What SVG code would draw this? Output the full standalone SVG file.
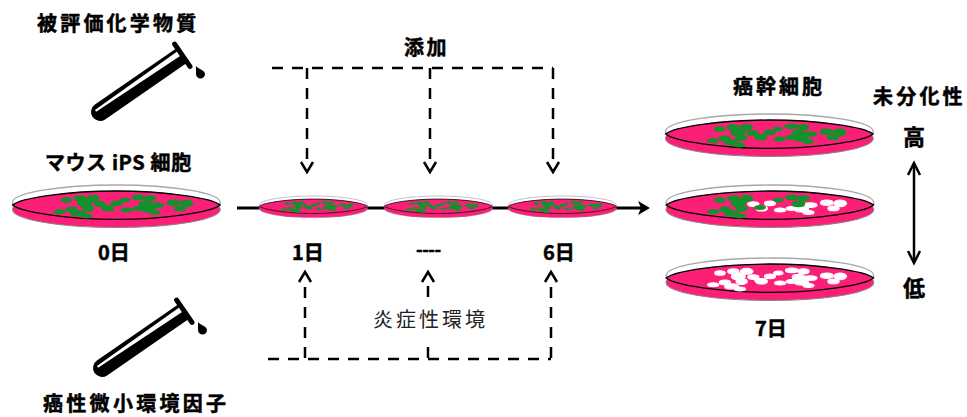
<svg xmlns="http://www.w3.org/2000/svg" width="967" height="417" viewBox="0 0 967 417">
<style>
text{font-family:"Noto Sans CJK JP","Noto Sans",sans-serif;font-weight:700;fill:#000;stroke:#000;stroke-width:.5;font-size:20px}
.m{font-size:22px}
.thin{font-weight:400;fill:#222;stroke:none}
.dash{fill:none;stroke:#000;stroke-width:2.5;stroke-dasharray:11 9}
.solid{fill:none;stroke:#000;stroke-width:3}
.head{fill:none;stroke:#000;stroke-width:2.5}
.green{fill:#12922c;stroke:#12922c;stroke-width:3}
.white{fill:#fff;stroke:#fff;stroke-width:3}
</style>
<defs>
<!-- cell colonies in dish coordinates -->
<g id="cellsA">
<ellipse cx="163" cy="48" rx="16" ry="7"/><ellipse cx="203" cy="43" rx="17" ry="8"/><ellipse cx="243" cy="43" rx="19" ry="9"/><ellipse cx="218" cy="58" rx="21" ry="11"/><ellipse cx="228" cy="73" rx="17" ry="9"/>
<ellipse cx="143" cy="83" rx="17" ry="6"/><ellipse cx="178" cy="76" rx="17" ry="7"/><ellipse cx="198" cy="88" rx="21" ry="8"/><ellipse cx="223" cy="96" rx="17" ry="6"/>
<ellipse cx="338" cy="48" rx="14" ry="6"/><ellipse cx="378" cy="40" rx="19" ry="7"/><ellipse cx="413" cy="43" rx="17" ry="8"/><ellipse cx="398" cy="60" rx="19" ry="8"/><ellipse cx="283" cy="70" rx="16" ry="6"/>
</g>
<g id="cellsB">
<ellipse cx="263" cy="60" rx="17" ry="7"/><ellipse cx="288" cy="73" rx="17" ry="8"/><ellipse cx="313" cy="58" rx="17" ry="7"/><ellipse cx="343" cy="78" rx="17" ry="6"/>
<ellipse cx="433" cy="63" rx="21" ry="7"/><ellipse cx="408" cy="76" rx="21" ry="8"/><ellipse cx="428" cy="85" rx="17" ry="6"/><ellipse cx="378" cy="73" rx="17" ry="6"/>
<ellipse cx="483" cy="56" rx="19" ry="8"/><ellipse cx="523" cy="58" rx="19" ry="10"/><ellipse cx="503" cy="73" rx="17" ry="7"/>
</g>
<!-- empty dish: lid rim, medium and inner edge -->
<g id="dish">
<ellipse cx="312.500" cy="56" rx="311" ry="53" fill="#fff" stroke="#a8a8a8" stroke-width="4"/>
<ellipse cx="312.500" cy="76" rx="311" ry="54" fill="#fb1f78" stroke="#888" stroke-width="3"/>
<path d="M2 63C25 42 170 21 312 21S600 42 623 63C600 84 454 106 312 106S25 84 2 63Z" fill="#fb1f78" stroke="#000" stroke-width="4"/>
</g>
<g id="tube">
<g transform="translate(100 112) rotate(-34.6)">
<path d="M0 -9H100V9H0A9 9 0 0 1 0 -9Z" fill="#000"/>
<path d="M-3 -4.5L100 -6V-.5L-3 -2.5Z" fill="#fff"/>
<path d="M100 -13.5L100 13.5" stroke="#000" stroke-width="5" stroke-linecap="round"/>
</g>
<path d="M196 66C198 69 205 70 205 74A4.5 4.5 0 0 1 196 74Z" fill="#000"/>
</g>
<path id="tipDown" d="M-6 -10L0 0L6 -10" class="head"/>
</defs>

<g id="connectors">
<path class="solid" d="M237 208H642"/>
<path d="M650 208L638 201L641 208L638 215Z" fill="#000"/>
<path class="dash" d="M272 68H553"/>
<path class="dash" d="M307 68V163M430 68V163M553 68V163"/>
<use href="#tipDown" x="307" y="172"/><use href="#tipDown" x="430" y="172"/><use href="#tipDown" x="553" y="172"/>
<path class="dash" d="M268 359H551"/>
<path class="dash" d="M305 358V285M551 358V285"/>
<path class="dash" d="M428 358V345M428 297V285"/>
<use href="#tipDown" transform="translate(305 272) scale(1 -1)"/><use href="#tipDown" transform="translate(428 272) scale(1 -1)"/><use href="#tipDown" transform="translate(551 272) scale(1 -1)"/>
<path d="M914 166V260" stroke="#000" stroke-width="2.5"/>
<path d="M908 175L914 163L920 175M908 251L914 263L920 251" fill="none" stroke="#000" stroke-width="2.5"/>
</g>

<g id="tube-chemical"><use href="#tube"/></g>
<g id="tube-niche"><use href="#tube" x="2" y="256"/></g>

<g id="dish-day0" transform="translate(12 184) scale(.334)">
<use href="#dish"/><use href="#cellsA" class="green"/><use href="#cellsB" class="green"/>
</g>
<g id="dish-day1" transform="translate(259 195.500) scale(.174 .17)">
<use href="#dish"/><use href="#cellsA" class="green"/><use href="#cellsB" class="green"/>
</g>
<g id="dish-mid" transform="translate(384 195.500) scale(.174 .17)">
<use href="#dish"/><use href="#cellsA" class="green"/><use href="#cellsB" class="green"/>
</g>
<g id="dish-day6" transform="translate(508 195.500) scale(.174 .17)">
<use href="#dish"/><use href="#cellsA" class="green"/><use href="#cellsB" class="green"/>
</g>
<g id="dish-high" transform="translate(665 113) scale(.334)">
<use href="#dish"/><use href="#cellsA" class="green"/><use href="#cellsB" class="green"/>
</g>
<g id="dish-mixed" transform="translate(665.500 184) scale(.334)">
<use href="#dish"/><use href="#cellsB" class="white"/><use href="#cellsA" class="green"/>
</g>
<g id="dish-low" transform="translate(665.500 257) scale(.334)">
<use href="#dish"/><use href="#cellsA" class="white"/><use href="#cellsB" class="white"/>
</g>

<g id="labels">
<text x="37" y="31" letter-spacing="3.2">被評価化学物質</text>
<text x="45" y="170" letter-spacing=".6">マウス iPS 細胞</text>
<text x="98" y="260">0日</text>
<text x="292" y="260">1日</text>
<text x="416" y="256" style="font-size:18px" letter-spacing="-.5">----</text>
<text x="543" y="260">6日</text>
<text x="404" y="55" letter-spacing="2.5">添加</text>
<text x="733" y="94" letter-spacing="3">癌幹細胞</text>
<text x="873" y="104" letter-spacing="3.2">未分化性</text>
<text x="903" y="145" class="m">高</text>
<text x="903" y="296" class="m">低</text>
<text x="755" y="336">7日</text>
<text x="43" y="411" letter-spacing="3.3">癌性微小環境因子</text>
<text x="373" y="327" letter-spacing="3" class="thin">炎症性環境</text>
</g>
</svg>
